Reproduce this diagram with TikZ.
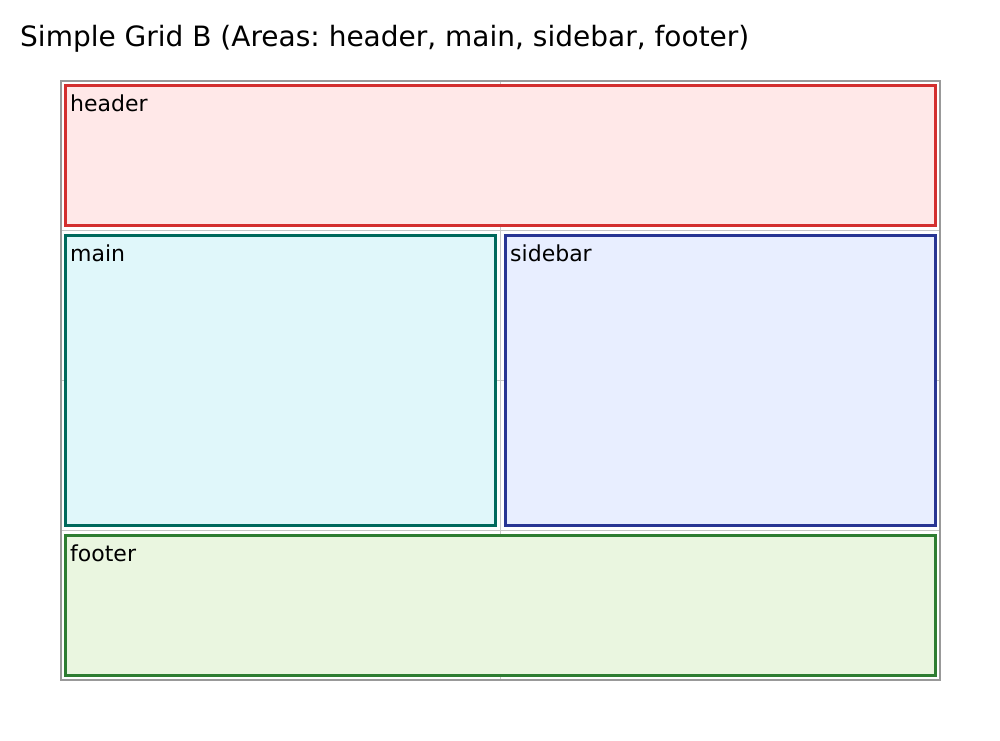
\documentclass[tikz,border=0pt]{standalone}
\usepackage{fontspec}
\setmainfont{DejaVu Sans}
\usepackage{tikz}
\usetikzlibrary{positioning}

\definecolor{hdrline}{HTML}{D32F2F}
\definecolor{hdrfill}{HTML}{FFE8E8}
\definecolor{mainline}{HTML}{00695C}
\definecolor{mainfill}{HTML}{E0F7FA}
\definecolor{sideline}{HTML}{283593}
\definecolor{sidefill}{HTML}{E8EEFF}
\definecolor{footline}{HTML}{2E7D32}
\definecolor{footfill}{HTML}{EAF6E0}

\frenchspacing
\begin{document}
\begin{tikzpicture} [
    x=1pt, y=-1pt,                  % one unit per pixel, y going down
    ]
% -------------------------------------------------
\tikzset{
  frame/.style={draw=gray!80, line width=2pt},
  gline/.style={draw=gray!45, line width=1pt},
  area/.style={draw, line width=3pt, rectangle},
  lbl/.style={anchor=north west, inner sep=0pt, font=\fontsize{22}{26}\selectfont},
  title/.style={anchor=base west, inner sep=0pt, font=\fontsize{28}{33}\selectfont}
}

    \useasboundingbox (0,0) rectangle (1000,740);

    \node [title] (ttl) at (20,46) {Simple Grid B (Areas: header, main, sidebar, footer)};

    \draw [gline] (500.5,81) -- (500.5,680);                        % grid: column line
    \draw [gline] (61,230.5) -- (940,230.5);                        % grid: row line 1
    \draw [gline] (61,380.5) -- (940,380.5);                        % grid: row line 2
    \draw [gline] (61,530.5) -- (940,530.5);                        % grid: row line 3
    \draw [frame] (61,81) rectangle (940,680);                      % grid: outer frame

    \draw [area, draw=hdrline, fill=hdrfill] (65,85) rectangle (935,225);     % header
    \draw [area, draw=mainline, fill=mainfill] (65,235) rectangle (495,525);  % main
    \draw [area, draw=sideline, fill=sidefill] (505,235) rectangle (935,525); % sidebar
    \draw [area, draw=footline, fill=footfill] (65,535) rectangle (935,675);  % footer

    \node [lbl] (hdr) at (70,95) {header};
    \node [lbl] (mn) at (70,245) {main};
    \node [lbl] (sb) at (510,245) {sidebar};
    \node [lbl] (ft) at (70,545) {footer};

\end{tikzpicture}
\end{document}
